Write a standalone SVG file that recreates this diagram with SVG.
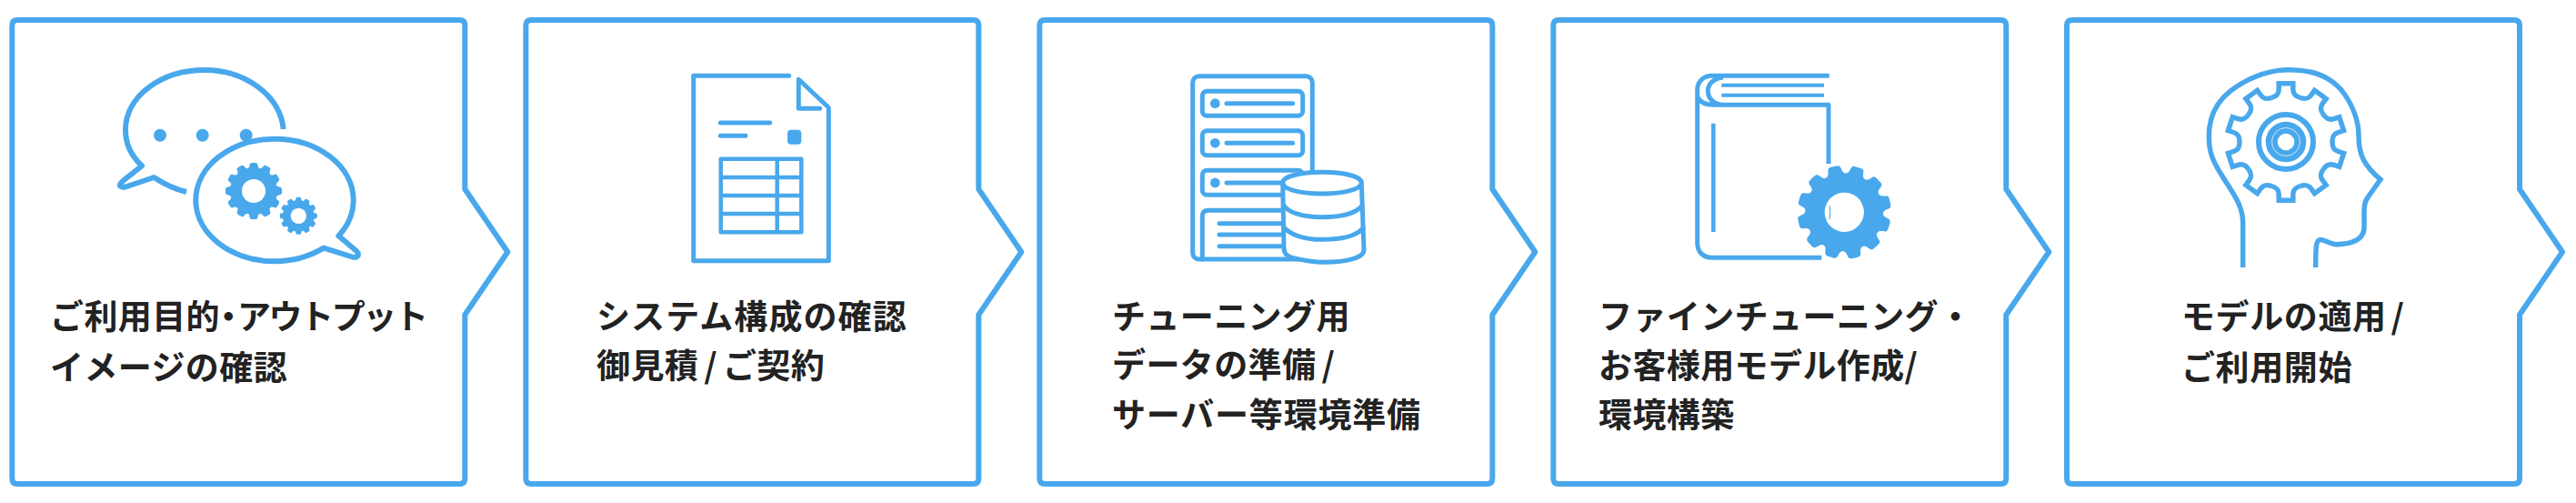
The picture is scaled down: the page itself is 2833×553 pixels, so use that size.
<svg xmlns="http://www.w3.org/2000/svg" xmlns:xlink="http://www.w3.org/1999/xlink" width="2833" height="553" viewBox="0 0 2833 553">
<style>
.s{fill:none;stroke:#49a8ec;stroke-width:5;stroke-linecap:round;stroke-linejoin:round}
.b{fill:#49a8ec;stroke:none}
.w{fill:#fff}
.box{fill:#fff;stroke:#49a8ec;stroke-width:6;stroke-linejoin:round}
text{font-family:"Noto Sans CJK JP","Noto Sans",sans-serif;font-weight:700;font-size:37px;fill:#222;letter-spacing:.4px}
.p{font-feature-settings:"palt"}
</style>
<defs>
<path id="box" d="M6,22H492Q498,22 498,28V208L545,277L498,346V526Q498,532 492,532H6Q0,532 0,526V28Q0,22 6,22Z"/>
<path id="t" d="M-10.7,-40C-8.5,-40.5 -7.5,-43 -7,-47Q-6.5,-50 -3,-50H3Q6.5,-50 7,-47C7.5,-43 8.5,-40.5 10.7,-40V-30H-10.7Z"/>
<g id="gear" class="b">
<circle r="41.5"/>
<use xlink:href="#t"/><use xlink:href="#t" transform="rotate(30)"/><use xlink:href="#t" transform="rotate(60)"/><use xlink:href="#t" transform="rotate(90)"/><use xlink:href="#t" transform="rotate(120)"/><use xlink:href="#t" transform="rotate(150)"/><use xlink:href="#t" transform="rotate(180)"/><use xlink:href="#t" transform="rotate(210)"/><use xlink:href="#t" transform="rotate(240)"/><use xlink:href="#t" transform="rotate(270)"/><use xlink:href="#t" transform="rotate(300)"/><use xlink:href="#t" transform="rotate(330)"/>
<circle r="21" class="w"/>
</g>
<path id="seg" d="M-15.8,-48.5C-11,-50 -7.8,-52 -7.8,-58V-64.3H7.8V-58C7.8,-52 11,-50 15.8,-48.5" fill="none" stroke="#49a8ec" stroke-width="5.5" stroke-linejoin="miter"/>
</defs>

<g id="step1">
<use xlink:href="#box" class="box" transform="translate(13.3,0)"/>
<path class="s" style="stroke-width:6;stroke-linecap:butt" d="M311.7,142C308,105 270,77 225,77C177,77 138,106 138,143C138,158 144,171 156,182.3L135,199Q130,204 133,205Q134,206 138,205.5L169.3,195C180,202 192,208 205,211"/>
<circle class="b" cx="176" cy="148.7" r="7"/><circle class="b" cx="222.7" cy="148.7" r="7"/><circle class="b" cx="270.7" cy="148.7" r="7"/>
<path style="stroke-width:6;fill:#fff" class="s" d="M302,152.7C350,152.7 388.7,183 388.7,220C388.7,235 382,249 372.3,259.3L392,276Q396,280 392,282.5Q390,283.5 386,282L356,272.7C342,281 323,287.3 302,287.3C254,287.3 215.3,257 215.3,220C215.3,183 254,152.7 302,152.7Z"/>
<use xlink:href="#gear" transform="translate(279,210) scale(.62)"/>
<use xlink:href="#gear" transform="translate(328.3,237.3) scale(.41)"/>
<text x="55" y="362">ご利用目的<tspan class="p">・</tspan><tspan style="letter-spacing:-2.4px">アウトプット</tspan></text>
<text x="55" y="418">イメージの確認</text>
</g>

<g id="step2">
<use xlink:href="#box" class="box" transform="translate(578.3,0)"/>
<path class="s" d="M867.7,83.3H762.7V286.7H911.3V118.3L878.3,87.3V119.3H901.7"/>
<path class="s" d="M792.3,135H846.7M792.3,149.3H820"/>
<rect class="b" x="866" y="142.7" width="15.3" height="16" rx="4"/>
<path class="s" style="stroke-width:4.5;stroke-linecap:butt" d="M792.7,174.7H881.3V255.3H792.7ZM792.7,195H881.3M792.7,215H881.3M792.7,235H881.3M854.7,174.7V255.3"/>
<text x="656" y="362" style="letter-spacing:1.1px">システム構成の確認</text>
<text x="656" y="416">御見積<tspan dx="6">/</tspan><tspan dx="6">ご契約</tspan></text>
</g>

<g id="step3">
<use xlink:href="#box" class="box" transform="translate(1143.3,0)"/>
<rect class="s" x="1311.7" y="83.7" width="131.6" height="201.3" rx="7"/>
<rect class="s" x="1322.3" y="100.3" width="110.4" height="27" rx="5"/>
<rect class="s" x="1322.3" y="143.7" width="110.4" height="27" rx="5"/>
<rect class="s" x="1322.3" y="187.3" width="110.4" height="27" rx="5"/>
<circle class="b" cx="1336.3" cy="113.7" r="5.4"/><circle class="b" cx="1336.3" cy="157.3" r="5.4"/><circle class="b" cx="1336.3" cy="201" r="5.4"/>
<path class="s" d="M1349,113.7H1421.7M1349,157.3H1421.7M1349,201H1421.7"/>
<path class="s" d="M1322.3,285V238Q1322.3,231.3 1329,231.3H1412M1341,245.7H1412M1341,258H1412M1341,270.7H1412"/>
<path class="s" style="fill:#fff" d="M1410.7,201C1410.7,194 1430,189.3 1454,189.3C1478,189.3 1497.3,194 1497.3,201L1500,275C1500,283 1482,288.3 1456,288.3C1440,288.3 1428,285 1420,283C1414,281 1412,278 1412,273Z"/>
<path class="s" d="M1410.7,201C1410.7,208 1430,213 1454,213C1478,213 1497.3,208 1497.3,201M1411.5,225C1415,233 1432,238.7 1454,238.7C1476,238.7 1492,234 1498,226M1412,250C1418,257 1432,263.3 1454,263.3C1476,263.3 1492,259 1499,251"/>
<text x="1223" y="362">チューニング用</text>
<text x="1223" y="415">データの準備<tspan dx="6">/</tspan></text>
<text x="1223" y="470" style="letter-spacing:.8px">サーバー等環境準備</text>
</g>

<g id="step4">
<use xlink:href="#box" class="box" transform="translate(1708.3,0)"/>
<path class="s" style="stroke-linecap:butt" d="M2011.7,83.3H1883C1873,83.3 1866.7,90 1866.7,99V266.7C1866.7,277 1873,283.3 1883.3,283.3H2003.3"/>
<path class="s" style="stroke-linecap:butt" d="M1895,85C1885,86 1878.3,92 1878.3,100C1878.3,108 1885,115.3 1895,115.3H2011V180M1866.7,107C1870,112 1876,115.3 1884,115.3H1895"/>
<path class="s" style="stroke-width:4;stroke-linecap:butt" d="M1893.3,93.7H2006M1893.3,104.7H2006"/>
<path class="s" style="stroke-width:4.5;stroke-linecap:butt" d="M1884.3,135.7V255"/>
<use xlink:href="#gear" transform="translate(2028.3,233.3) rotate(17) scale(1.03)"/>
<path d="M2012.5,226V241" stroke="#49a8ec" stroke-width="1" fill="none"/>
<text x="1758" y="362">ファインチューニング・</text>
<text x="1758" y="416">お客様用モデル作成/</text>
<text x="1758" y="470">環境構築</text>
</g>

<g id="step5">
<use xlink:href="#box" class="box" transform="translate(2273,0)"/>
<path class="s" style="stroke-width:5.5;stroke-linecap:butt;stroke-linejoin:miter" d="M2466.7,294V245C2466.7,225 2455,212 2443,192C2432,175 2429.3,165 2429.3,150C2429.3,120 2445,105 2460,95C2480,82 2500,76.7 2518,76.7C2545,76.7 2565,85 2578,103C2590,120 2594,135 2594,150C2594,170 2600,182 2618,197.3L2604,217C2601,221 2600,225 2600,232V250C2600,262 2590,268 2570,268.7C2562,268.7 2558,264 2552,263.5C2547,264 2546.7,270 2546.7,294"/>
<g transform="translate(2514,156)">
<use xlink:href="#seg"/><use xlink:href="#seg" transform="rotate(36)"/><use xlink:href="#seg" transform="rotate(72)"/><use xlink:href="#seg" transform="rotate(108)"/><use xlink:href="#seg" transform="rotate(144)"/><use xlink:href="#seg" transform="rotate(180)"/><use xlink:href="#seg" transform="rotate(216)"/><use xlink:href="#seg" transform="rotate(252)"/><use xlink:href="#seg" transform="rotate(288)"/><use xlink:href="#seg" transform="rotate(324)"/>
<circle r="30" fill="none" stroke="#49a8ec" stroke-width="6"/>
<circle r="15.8" fill="none" stroke="#49a8ec" stroke-width="13"/>
<circle r="15.5" fill="none" stroke="#fff" stroke-width=".7"/>
</g>
<text x="2399" y="362" style="letter-spacing:.6px">モデルの適用<tspan dx="5">/</tspan></text>
<text x="2399" y="418" style="letter-spacing:.6px">ご利用開始</text>
</g>
</svg>
